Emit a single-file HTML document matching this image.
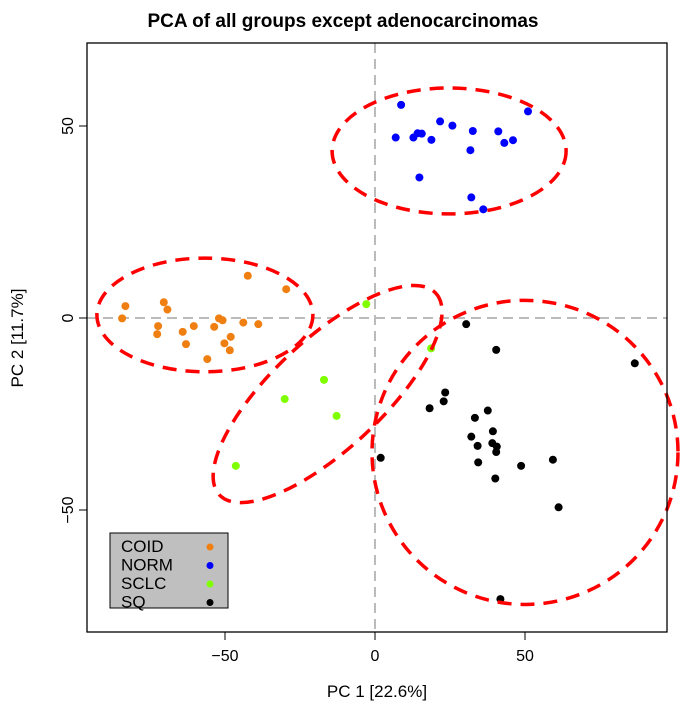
<!DOCTYPE html>
<html><head><meta charset="utf-8"><style>body{margin:0;background:#fff}svg{font-family:"Liberation Sans",sans-serif}</style></head>
<body>
<svg id="c" width="686" height="708"></svg>
<script>
const coidX=[-83.2,-84.3,-70.4,-69.2,-72.3,-72.6,-64.1,-63,-60.4,-55.9,-53.6,-52,-50.8,-48.1,-50.2,-48.4,-43.9,-38.9,-42.4,-29.6];
const coidY=[3.1,-0.1,4.1,2.2,-2.1,-4.2,-3.6,-6.8,-2.1,-10.7,-2.3,-0.1,-0.6,-4.9,-6.6,-8.4,-1.2,-1.6,11.0,7.5];
const normX=[8.7,51,21.7,25.8,32.6,41.1,6.9,12.8,14.2,15.6,18.8,43.1,46,31.8,14.8,32.1,36.1];
const normY=[55.5,53.8,51.2,50.1,48.7,48.6,47,47,48.1,48,46.4,45.6,46.3,43.7,36.6,31.4,28.3];
const sclcX=[-2.9,-17,-30.1,-12.8,-46.4,18.7];
const sclcY=[3.6,-16.1,-21.1,-25.5,-38.5,-7.9];
const sqX=[30.4,40.4,86.6,23.4,22.9,18.2,37.6,33.3,39.3,32.1,34.2,39.1,40.6,40.4,34.4,48.7,59.3,40.1,61.2,1.9,41.8];
const sqY=[-1.6,-8.3,-11.8,-19.4,-21.7,-23.5,-24.1,-26,-29.5,-30.9,-33.3,-32.6,-33.5,-34.9,-37.6,-38.5,-36.9,-41.8,-49.3,-36.4,-73.2];
const groups=["COID","NORM","SCLC","SQ"];
const colors=["#f07f12","#0000ff","#7fff00","#000000"];
const ellCX=[-56.7,24.7,-15.8,50];
const ellCY=[0.8,43.5,-19.8,-35];
const ellRX=[36,39,49.3,51];
const ellRY=[14.8,16.4,14.3,39.6];
const ellRot=[0,0,-43,0];
const xTicks=[-50,0,50];const yTicks=[-50,0,50];
const X=v=>375+v*3, Y=v=>318-v*3.84;
const s=document.getElementById('c');const NS="http://www.w3.org/2000/svg";
function mk(t,a,txt){const e=document.createElementNS(NS,t);for(const k in a)e.setAttribute(k,a[k]);if(txt!==undefined)e.textContent=txt;s.appendChild(e);return e;}
let e;
e=mk('text',{x:343,y:27,'text-anchor':'middle','font-size':19,'font-weight':'bold'},'PCA of all groups except adenocarcinomas');

e=mk('line',{x1:X(0),x2:X(0),y1:43,y2:632,stroke:'#bbb','stroke-width':2,'stroke-dasharray':'10,6'});

e=mk('line',{x1:87,x2:667,y1:Y(0),y2:Y(0),stroke:'#bbb','stroke-width':2,'stroke-dasharray':'10,6'});

const sets=[[coidX,coidY],[normX,normY],[sclcX,sclcY],[sqX,sqY]];
sets.forEach((st,g)=>{st[0].forEach((x,i)=>{e=mk('circle',{cx:X(x),cy:Y(st[1][i]),r:4,fill:colors[g]});
});});
ellCX.forEach((cx,i)=>{const px=X(cx),py=Y(ellCY[i]);e=mk('ellipse',{cx:px,cy:py,rx:ellRX[i]*3,ry:ellRY[i]*3.84,fill:'none',stroke:'#f00','stroke-width':3.5,'stroke-dasharray':'14,9',transform:`rotate(${ellRot[i]} ${px} ${py})`});
});
e=mk('rect',{x:87,y:43,width:580,height:589,fill:'none',stroke:'#000','stroke-width':1.3});

xTicks.forEach(t=>{mk('line',{x1:X(t),x2:X(t),y1:632,y2:640,stroke:'#000'});e=mk('text',{x:X(t),y:661,'text-anchor':'middle','font-size':16},t<0?'\u2212'+(-t):t);
});
yTicks.forEach(t=>{mk('line',{x1:79,x2:87,y1:Y(t),y2:Y(t),stroke:'#000'});e=mk('text',{x:73,y:Y(t),'text-anchor':'middle','font-size':16,transform:`rotate(-90 73 ${Y(t)})`},t<0?'\u2212'+(-t):t);
});
e=mk('text',{x:377,y:697,'text-anchor':'middle','font-size':17},'PC 1 [22.6%]');

e=mk('text',{x:23,y:338,'text-anchor':'middle','font-size':17,transform:'rotate(-90 23 338)'},'PC 2 [11.7%]');

e=mk('rect',{x:110,y:533,width:118,height:75,fill:'#bfbfbf',stroke:'#000'});

groups.forEach((g,i)=>{const y=546+i*18.5;e=mk('text',{x:121,y:y+6,'font-size':17},g);

e=mk('circle',{cx:210,cy:y+1,r:3.5,fill:colors[i]});
});
</script>
</body></html>
